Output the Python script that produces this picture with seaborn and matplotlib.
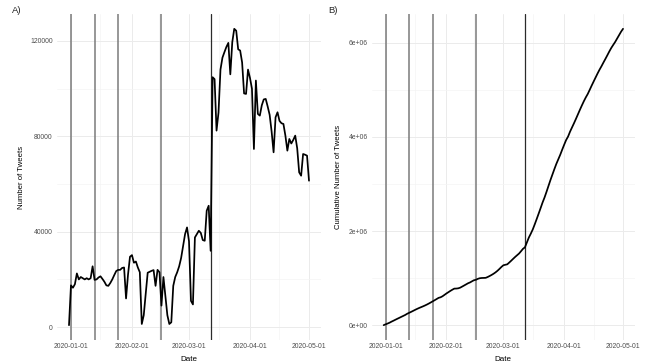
import numpy as np
import pandas as pd
import matplotlib
matplotlib.use("Agg")
import matplotlib.pyplot as plt
import matplotlib.dates as mdates
from matplotlib.ticker import FixedLocator, FuncFormatter
import seaborn as sns

# Daily tweet counts, 2019-12-31 .. 2020-05-01
start_date = "2019-12-31"
daily_tweets = [
    800, 17500, 16500, 18000, 22500, 20000, 21000, 20500, 20000, 20500,
    20000, 20500, 25500, 19800, 20000, 20800, 21300, 20200, 19000, 17500,
    17300, 18500, 20000, 21800, 23500, 24000, 24000, 24800, 25000, 12000,
    22000, 29500, 30200, 27000, 27500, 25000, 23000, 1300, 5000, 14000,
    22800, 23200, 23600, 23900, 17300, 24000, 23000, 9000, 21000, 13000,
    5000, 1300, 2000, 17300, 21000, 23000, 25500, 29000, 34000, 39000,
    41800, 36000, 11000, 9500, 37600, 39000, 40400, 39500, 36500, 36200,
    48800, 50900, 32000, 104800, 104000, 82400, 90000, 108000, 113000, 115300,
    117500, 119200, 106000, 119500, 125100, 124300, 116500, 116000, 111000, 98000,
    97800, 108000, 104500, 100000, 74700, 103400, 89400, 88700, 93000, 95500,
    95700, 92500, 89000, 82000, 73300, 88000, 90100, 86500, 85500, 85200,
    80300, 74000, 78900, 77000, 78500, 80300, 75000, 64900, 63500, 72600,
    72300, 71900, 61400,
]

# Key pandemic dates marked on both panels
event_dates = ["2020-01-01", "2020-01-13", "2020-01-25", "2020-02-16", "2020-03-12"]
event_colors = ["#7a7a7a", "#7a7a7a", "#7a7a7a", "#7a7a7a", "#2b2b2b"]

date_ticks = ["2020-01-01", "2020-02-01", "2020-03-01", "2020-04-01", "2020-05-01"]
date_minor = ["2020-01-16", "2020-02-15", "2020-03-16", "2020-04-16"]
count_ticks = [0, 40000, 80000, 120000]
count_minor = [20000, 60000, 100000]
cum_ticks = [0, 2e6, 4e6, 6e6]
cum_minor = [1e6, 3e6, 5e6]

dates = pd.date_range(start_date, periods=len(daily_tweets), freq="D")
df = pd.DataFrame({"Date": dates, "Tweets": daily_tweets})
df["Cumulative"] = df["Tweets"].cumsum()

sns.set_theme(style="white")
plt.rcParams["font.family"] = ["Liberation Sans", "DejaVu Sans"]

W, H = 650, 364
fig = plt.figure(figsize=(W / 100, H / 100), dpi=100)
ax_a = fig.add_axes([57 / W, (H - 340) / H, 264 / W, 326 / H])
ax_b = fig.add_axes([371.7 / W, (H - 340) / H, 263.3 / W, 326 / H])


def expand(lo, hi, frac=0.05):
    span = hi - lo
    return lo - frac * span, hi + frac * span


def style(ax, yticks, yminor, fmt, ylabel, ylabel_x):
    for s in ax.spines.values():
        s.set_visible(False)
    x0, x1 = mdates.date2num(df["Date"].min()), mdates.date2num(df["Date"].max())
    ax.set_xlim(*expand(x0, x1))
    ax.xaxis.set_major_locator(FixedLocator(mdates.date2num(pd.to_datetime(date_ticks))))
    ax.xaxis.set_minor_locator(FixedLocator(mdates.date2num(pd.to_datetime(date_minor))))
    ax.xaxis.set_major_formatter(mdates.DateFormatter("%Y-%m-%d"))
    ax.yaxis.set_major_locator(FixedLocator(yticks))
    ax.yaxis.set_minor_locator(FixedLocator(yminor))
    ax.yaxis.set_major_formatter(FuncFormatter(fmt))
    ax.grid(which="major", color="#ebebeb", linewidth=0.7)
    ax.grid(which="minor", color="#f4f4f4", linewidth=0.5)
    ax.set_axisbelow(True)
    ax.tick_params(which="both", length=0, labelsize=4.9, labelcolor="#4d4d4d")
    ax.tick_params(axis="y", pad=3)
    ax.tick_params(axis="x", pad=2.5)
    ax.set_xlabel("Date", fontsize=5.8, color="black")
    ax.set_ylabel(ylabel, fontsize=5.6, color="black")
    ax.xaxis.set_label_coords(0.5, -0.048)
    ax.yaxis.set_label_coords(ylabel_x, 0.5)
    for d, c in zip(event_dates, event_colors):
        ax.axvline(pd.Timestamp(d), color=c, linewidth=1.1 if c != "#2b2b2b" else 0.9, zorder=2)


sns.lineplot(data=df, x="Date", y="Tweets", ax=ax_a, color="black", linewidth=1.25, zorder=3)
ax_a.set_ylim(*expand(min(daily_tweets), max(daily_tweets)))
style(ax_a, count_ticks, count_minor, lambda v, p: f"{int(v)}", "Number of Tweets", -0.121)

sns.lineplot(data=df, x="Date", y="Cumulative", ax=ax_b, color="black", linewidth=1.25, zorder=3)
ax_b.set_ylim(*expand(0, df["Cumulative"].max()))


def sci(v, p):
    if v == 0:
        return "0e+00"
    exp = int(np.floor(np.log10(abs(v))))
    return f"{v / 10 ** exp:.0f}e+{exp:02d}"


style(ax_b, cum_ticks, cum_minor, sci, "Cumulative Number of Tweets", -0.114)

fig.text(17 / W, 1 - 10.5 / H, "A)", fontsize=6.8, ha="center", va="center")
fig.text(333 / W, 1 - 10.5 / H, "B)", fontsize=6.8, ha="center", va="center")

fig.savefig("out.png", dpi=100)
